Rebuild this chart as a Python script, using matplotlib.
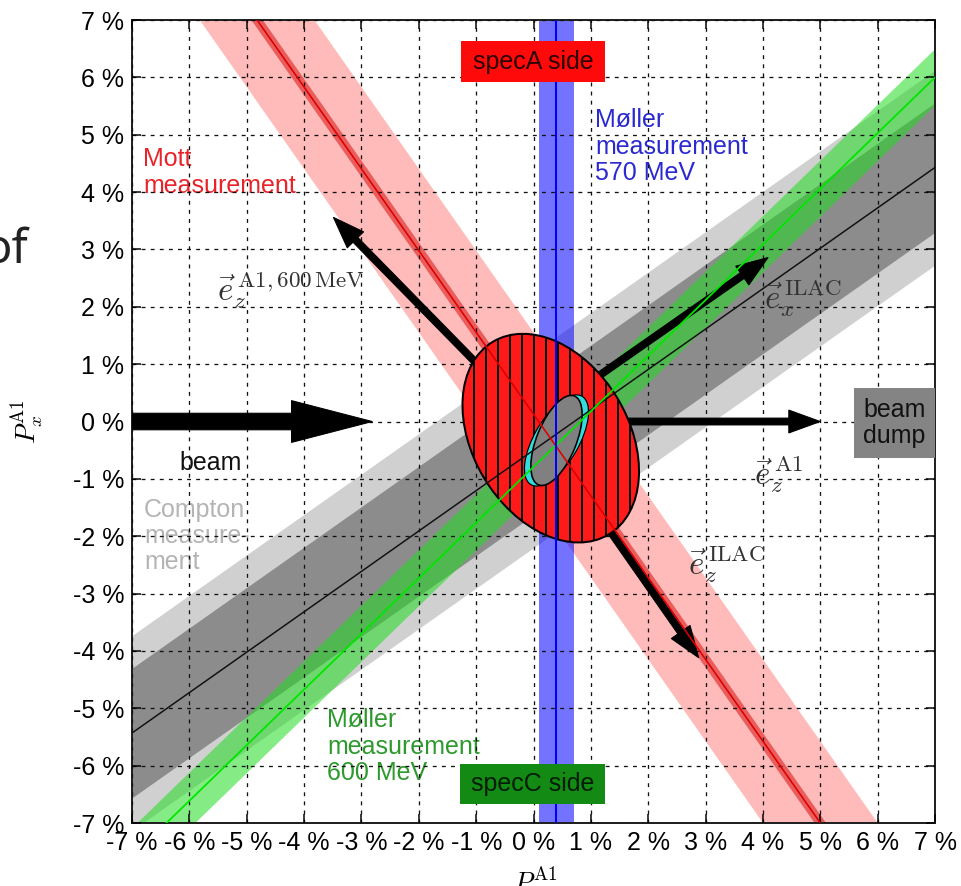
import numpy as np
import matplotlib
matplotlib.use('Agg')
import matplotlib.pyplot as plt
from matplotlib.patches import Ellipse, Rectangle

plt.rcParams['font.family'] = ['Liberation Sans', 'DejaVu Sans']
plt.rcParams['mathtext.fontset'] = 'cm'
plt.rcParams['hatch.linewidth'] = 2.0
plt.rcParams['hatch.color'] = 'black'

# axis ticks (polarisation in %)
ticks = [-7, -6, -5, -4, -3, -2, -1, 0, 1, 2, 3, 4, 5, 6, 7]
tick_labels = ['%d %%' % t for t in ticks]

# Compton measurement: central line (two points) + band half widths in P_x
compton_x = [-7.0, 7.0]
compton_y = [-5.43, 4.43]
compton_err = [1.13, 1.70]

# Moller measurement 600 MeV
moller600_x = [-6.4, 7.0]
moller600_y = [-7.0, 6.0]
moller600_err = 0.49

# Mott measurement (P_z as function of P_x) + half widths in P_z
mott_y = [7.0, -7.0]
mott_x = [-4.82, 5.0]
mott_err = [0.1, 1.0]

# Moller measurement 570 MeV (only P_z)
moller570_x = 0.4
moller570_err = 0.3

# combined results
big_ell = [0.3, -0.29, 3.92, 2.71, -59]      # x, y, width, height, angle
cyan_ell = [0.4, -0.33, 1.78, 0.78, 60]
gray_ell = [0.4, -0.33, 1.67, 0.69, 68]

# basis vectors, tips of arrows starting at (0, 0)
vec_names = ['ez_A1', 'ex_ILAC', 'ez_ILAC', 'ez_A1_600']
vec_dx = [5.0, 4.09, 2.88, -3.49]
vec_dy = [0.0, 2.86, -4.12, 3.56]

# incoming beam
beam_start = -7.0
beam_end = -2.81


fig = plt.figure(figsize=(961 / 72, 886 / 72), dpi=72)
ax = fig.add_axes([0.1374, 0.0711, 0.8356, 0.9063])
ax.set_xlim(-7, 7)
ax.set_ylim(-7, 7)

# Compton bands
xx = np.linspace(-8, 8, 50)
k = (compton_y[1] - compton_y[0]) / (compton_x[1] - compton_x[0])
yc = compton_y[0] + k * (xx - compton_x[0])
ax.fill_between(xx, yc - compton_err[1], yc + compton_err[1], color='#d0d0d0', lw=0, zorder=1)
ax.fill_between(xx, yc - compton_err[0], yc + compton_err[0], color='#8c8c8c', lw=0, zorder=1.1)

# Moller 600 MeV band
k = (moller600_y[1] - moller600_y[0]) / (moller600_x[1] - moller600_x[0])
yg = moller600_y[0] + k * (xx - moller600_x[0])
ax.fill_between(xx, yg - moller600_err, yg + moller600_err, color='#22dd22', alpha=0.55, lw=0, zorder=1.3)

# Mott bands
yy = np.linspace(-8, 8, 50)
k = (mott_x[1] - mott_x[0]) / (mott_y[1] - mott_y[0])
xm = mott_x[0] + k * (yy - mott_y[0])
ax.fill_betweenx(yy, xm - mott_err[1], xm + mott_err[1], color='red', alpha=0.27, lw=0, zorder=1.4)
ax.fill_betweenx(yy, xm - mott_err[0], xm + mott_err[0], color='#dd2020', alpha=0.6, lw=0, zorder=1.45)

# Moller 570 MeV band
ax.axvspan(moller570_x - moller570_err, moller570_x + moller570_err, color='blue', alpha=0.55, lw=0, zorder=1.5)

# grid
ax.set_axisbelow(False)
ax.grid(True, color='#111111', ls=(0, (3, 4)), lw=1.3)

# arrows
ax.arrow(beam_start, 0, beam_end - beam_start, 0, width=0.29, head_width=0.73, head_length=1.41,
         length_includes_head=True, fc='k', ec='k', zorder=3.5)
for dx, dy in zip(vec_dx, vec_dy):
    ax.arrow(0, 0, dx, dy, width=0.12, head_width=0.40, head_length=0.55,
             length_includes_head=True, fc='k', ec='k', zorder=3.5)

# result ellipses
ax.add_patch(Ellipse(big_ell[:2], big_ell[2], big_ell[3], angle=big_ell[4],
                     fc='#ff1a1a', ec='k', lw=2, hatch='|', zorder=4))
ax.add_patch(Ellipse(cyan_ell[:2], cyan_ell[2], cyan_ell[3], angle=cyan_ell[4],
                     fc='#33dddd', ec='k', lw=1.2, zorder=4.2))
ax.add_patch(Ellipse(gray_ell[:2], gray_ell[2], gray_ell[3], angle=gray_ell[4],
                     fc='#808080', ec='k', lw=1.6, zorder=4.3))

# central lines on top
ax.plot(xx, yc, color='#111111', lw=1.5, zorder=6)
ax.plot(xx, yg, color='#00e600', lw=1.8, zorder=6)
ax.plot(xm, yy, color='#dd0000', lw=1.6, zorder=6)
ax.axvline(moller570_x, color='#0000ff', lw=2, zorder=6)

# labels
fs = 25
ls = 1.12
ax.text(-6.81, 4.78, 'Mott\nmeasurement', color='#e8242a', fontsize=fs, va='top', ha='left',
        linespacing=ls, zorder=2.2)
ax.text(1.08, 5.46, 'Møller\nmeasurement\n570 MeV', color='#2a2ad0', fontsize=fs, va='top', ha='left',
        linespacing=ls, zorder=2.2)
ax.text(-3.6, -5.0, 'Møller\nmeasurement\n600 MeV', color='#2e9a2e', fontsize=fs, va='top', ha='left',
        linespacing=ls, zorder=2.2)
ax.text(-6.79, -1.33, 'Compton\nmeasure-\nment', color='#b4b4b4', fontsize=fs, va='top', ha='left',
        linespacing=ls, zorder=2.2)
ax.text(-5.08, -0.72, 'beam', color='#111111', fontsize=fs, va='center', ha='right', zorder=2.2)

# boxes
ax.add_patch(Rectangle((-1.26, 5.92), 2.5, 0.71, fc='#ff0a0a', ec='none', zorder=7))
ax.text(-0.01, 6.27, 'specA side', color='#2a0000', fontsize=fs, ha='center', va='center', zorder=7.1)
ax.add_patch(Rectangle((-1.28, -6.66), 2.53, 0.69, fc='#138a13', ec='none', zorder=7))
ax.text(-0.015, -6.32, 'specC side', color='#041c04', fontsize=fs, ha='center', va='center', zorder=7.1)
ax.add_patch(Rectangle((5.58, -0.63), 1.42, 1.21, fc='#848484', ec='none', zorder=7))
ax.text(6.29, -0.03, 'beam\ndump', color='#111111', fontsize=fs, ha='center', va='center',
        linespacing=ls, zorder=7.1)

# vector labels
vfs = 33
ax.text(-5.52, 2.29, r'$\vec{e}_z^{\,\mathrm{A1,600\,MeV}}$', fontsize=vfs, color='#333333',
        ha='left', va='center', zorder=7)
ax.text(4.01, 2.15, r'$\vec{e}_x^{\,\mathrm{ILAC}}$', fontsize=vfs, color='#333333',
        ha='left', va='center', zorder=7)
ax.text(3.84, -0.92, r'$\vec{e}_z^{\,\mathrm{A1}}$', fontsize=vfs, color='#333333',
        ha='left', va='center', zorder=7)
ax.text(2.70, -2.48, r'$\vec{e}_z^{\,\mathrm{ILAC}}$', fontsize=vfs, color='#333333',
        ha='left', va='center', zorder=7)

# axes styling
ax.set_xticks(ticks)
ax.set_yticks(ticks)
ax.set_xticklabels(tick_labels)
ax.set_yticklabels(tick_labels)
ax.tick_params(direction='in', length=9, width=1.5, top=True, right=True, labelsize=fs, pad=8)
for s in ax.spines.values():
    s.set_linewidth(2)
    s.set_color('#222222')

ax.set_xlabel(r'$P_z^{\mathrm{A1}}$', fontsize=27)
ax.set_ylabel(r'$P_x^{\mathrm{A1}}$', fontsize=27)
ax.xaxis.set_label_coords(0.502, -0.052)
ax.yaxis.set_label_coords(-0.108, 0.5)

# slide remnant at the left border
fig.text(28 / 961, 1 - 263 / 886, 'of', ha='right', va='baseline', fontsize=47,
         family='Noto Sans', color='#222222')

fig.savefig('out.png', dpi=72)
plt.close(fig)
